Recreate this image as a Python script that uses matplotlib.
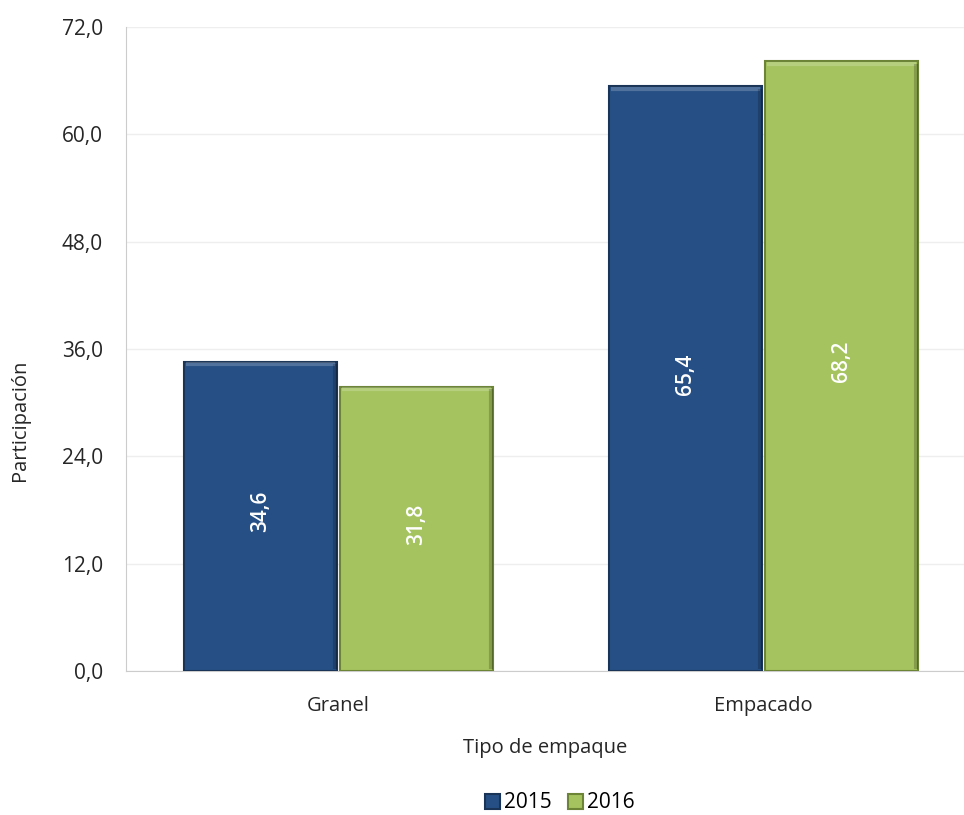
import matplotlib
matplotlib.use("Agg")
import matplotlib.pyplot as plt
import numpy as np

# data
categories = ["Granel", "Empacado"]
years = ["2015", "2016"]
vals_2015 = [34.6, 65.4]
vals_2016 = [31.8, 68.2]
yticks = [0, 12, 24, 36, 48, 60, 72]

colors = ["#265085", "#A5C45F"]
edges = ["#1A3457", "#6B8435"]

plt.rcParams['font.family'] = ['Open Sans', 'DejaVu Sans']

fig = plt.figure(figsize=(9.64, 8.15), dpi=100)
ax = fig.add_axes([126/964, 1 - 671/815, 838/964, (671 - 27)/815])

x = np.arange(len(categories))
w = 0.362
for i, (vals, c, ec, yr) in enumerate(zip([vals_2015, vals_2016], colors, edges, years)):
    pos = x + (i - 0.5) * (w + 0.005)
    bars = ax.bar(pos, vals, w, color=c, edgecolor=ec, linewidth=1.5, label=yr, zorder=3)
    for b, v in zip(bars, vals):
        # light bevel strip on top, darker on the right
        ax.plot([b.get_x() + 0.006, b.get_x() + w - 0.006], [v - 0.3, v - 0.3],
                color="white", alpha=0.2, lw=3, zorder=4, solid_capstyle="butt")
        ax.plot([b.get_x() + w - 0.006] * 2, [0.2, v - 0.3],
                color="black", alpha=0.2, lw=3, zorder=4, solid_capstyle="butt")
        ax.text(b.get_x() + w / 2, v / 2 + 0.5, f"{v:.1f}".replace(".", ","),
                rotation=90, ha="center", va="center", color="white",
                fontsize=15, fontweight="semibold", zorder=5)

ax.set_xlim(-0.5, -0.5 + 838 / 425)
ax.set_ylim(0, 72)
ax.set_yticks(yticks)
ax.set_yticklabels([f"{t:.1f}".replace(".", ",") for t in yticks], fontsize=15, color="#262626")
ax.set_xticks(x)
ax.set_xticklabels(categories, fontsize=14.5, color="#262626")
ax.tick_params(axis="y", length=0, pad=16.5)
ax.tick_params(axis="x", length=0, pad=18)
ax.grid(axis="y", color="#eeeeee", lw=1, zorder=0)
for s in ["top", "right"]:
    ax.spines[s].set_visible(False)
ax.spines["left"].set_color("#cccccc")
ax.spines["bottom"].set_color("#cccccc")

ax.set_xlabel("Tipo de empaque", fontsize=14.5, color="#262626", labelpad=16)
fig.text(20/964, 1 - 420/815, "Participación", rotation=90, ha="center", va="center",
         fontsize=14.5, color="#262626")

fig.legend(loc="center", bbox_to_anchor=(560/964, 1 - 803/815), ncol=2, frameon=False,
           fontsize=15, handlelength=0.7, handleheight=0.7, handletextpad=0.2, columnspacing=0.8)

fig.savefig("out.png", dpi=100)
